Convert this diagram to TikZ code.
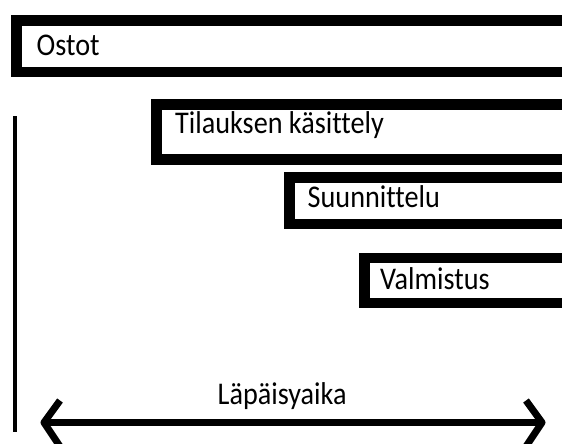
\documentclass[tikz,border=0pt]{standalone}
\usepackage{fontspec}
\setmainfont{Carlito}[Ligatures={NoCommon}]
\newcommand{\tallt}[1]{\scalebox{1}[1.12]{#1}}
\begin{document}
\begin{tikzpicture}[x=1pt,y=-1pt,
  boxline/.style={draw=black,line width=10.5pt},
  lbl/.style={anchor=base west,inner sep=0pt,font=\fontsize{28.2}{34}\selectfont},
  thin/.style={draw=black,line width=4pt},
  arrowline/.style={draw=black,line width=7pt,line join=round,line cap=butt}]
\useasboundingbox (0,0) rectangle (562,444);
\clip (0,0) rectangle (562,444);
% boxes (extending beyond the right edge)
\draw[boxline] (16.5,20.5) rectangle (620,72.2);
\draw[boxline] (156.3,104.5) rectangle (620,159.5);
\draw[boxline] (289.5,177.7) rectangle (620,224);
\draw[boxline] (364.7,257.8) rectangle (620,303);
% labels
\node[lbl] (ostot) at (36.5,55.2) {\tallt{Ostot}};
\node[lbl] (tilaus) at (175,133.3) {\tallt{Tilauksen käsittely}};
\node[lbl] (suunn) at (307.5,207.3) {\tallt{Suunnittelu}};
\node[lbl] (valm) at (380,289.5) {\tallt{Valmistus}};
\node[lbl] (lapa) at (217.5,404.5) {\tallt{Läpäisyaika}};
% vertical line
\coordinate (vtop) at (14.5,116);
\coordinate (vbot) at (14.5,432);
\draw[thin] (vtop) -- (vbot);
% double arrow
\coordinate (aL) at (44,422.5);
\coordinate (aR) at (542,422.5);
\draw[arrowline] (aL) -- (aR);
\draw[arrowline] ([shift={(16,-22)}]aL) -- (aL) -- ([shift={(16,24)}]aL);
\draw[arrowline] ([shift={(-16,-22)}]aR) -- (aR) -- ([shift={(-16,24)}]aR);
\end{tikzpicture}
\end{document}
